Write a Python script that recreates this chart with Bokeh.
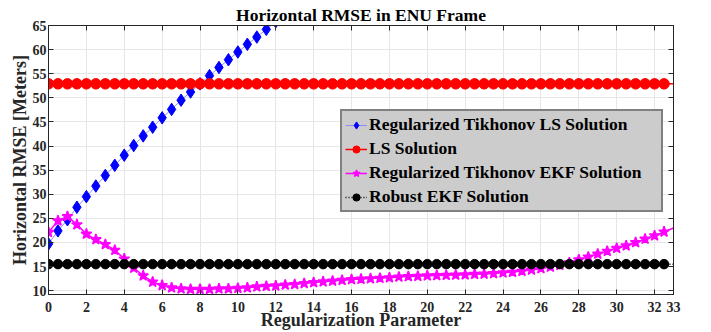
import numpy as np
from bokeh.plotting import figure
from bokeh.models import (Range1d, FixedTicker, LinearAxis, Legend, LegendItem,
                          CustomJSTickFormatter)
from bokeh.embed import file_html
from bokeh.resources import INLINE

# ---------------- data ----------------
reg_param = [i * 0.5 for i in range(67)]          # 0, 0.5, ... 33
x_ticks = [0, 2, 4, 6, 8, 10, 12, 14, 16, 18, 20, 22, 24, 26, 28, 30, 32, 33]
y_ticks = [10, 15, 20, 25, 30, 35, 40, 45, 50, 55, 60, 65]

# Regularized Tikhonov LS Solution (leaves the axes after ~12)
tik_ls_x = [i * 0.5 for i in range(26)]
tik_ls_rmse = [19.7, 22.4, 24.7, 27.3, 29.5, 31.7, 33.9, 36.0, 38.1, 40.1,
               42.1, 43.9, 45.85, 47.6, 49.5, 51.2, 52.9, 54.6, 56.3, 57.9,
               59.5, 61.1, 62.6, 64.2, 65.8, 67.4]

# LS Solution
ls_rmse = [52.9, 52.9, 52.9, 52.9, 52.9, 52.9, 52.9, 52.9, 52.9, 52.9,
           52.9, 52.9, 52.9, 52.9, 52.9, 52.9, 52.9, 52.9, 52.9, 52.9,
           52.9, 52.9, 52.9, 52.9, 52.9, 52.9, 52.9, 52.9, 52.9, 52.9,
           52.9, 52.9, 52.9, 52.9, 52.9, 52.9, 52.9, 52.9, 52.9, 52.9,
           52.9, 52.9, 52.9, 52.9, 52.9, 52.9, 52.9, 52.9, 52.9, 52.9,
           52.9, 52.9, 52.9, 52.9, 52.9, 52.9, 52.9, 52.9, 52.9, 52.9,
           52.9, 52.9, 52.9, 52.9, 52.9, 52.9, 52.9]

# Regularized Tikhonov EKF Solution
tik_ekf_rmse = [22.1, 24.5, 25.4, 23.7, 21.75, 20.6, 19.6, 18.4, 16.6, 14.7,
                13.1, 11.8, 11.1, 10.6, 10.4, 10.3, 10.3, 10.3, 10.4, 10.4,
                10.5, 10.6, 10.8, 10.9, 11.0, 11.2, 11.3, 11.5, 11.7, 11.85,
                12.0, 12.15, 12.3, 12.4, 12.5, 12.6, 12.7, 12.85, 12.95, 13.0,
                13.1, 13.15, 13.2, 13.25, 13.3, 13.4, 13.45, 13.55, 13.7, 13.85,
                14.05, 14.3, 14.6, 14.9, 15.3, 15.8, 16.4, 17.0, 17.6, 18.2,
                18.8, 19.3, 20.0, 20.7, 21.4, 22.2, 23.0]

# Robust EKF Solution
robust_ekf_rmse = [15.5, 15.5, 15.5, 15.5, 15.5, 15.5, 15.5, 15.5, 15.5, 15.5,
                   15.5, 15.5, 15.5, 15.5, 15.5, 15.5, 15.5, 15.5, 15.5, 15.5,
                   15.5, 15.5, 15.5, 15.5, 15.5, 15.5, 15.5, 15.5, 15.5, 15.5,
                   15.5, 15.5, 15.5, 15.5, 15.5, 15.5, 15.5, 15.5, 15.5, 15.5,
                   15.5, 15.5, 15.5, 15.5, 15.5, 15.5, 15.5, 15.5, 15.5, 15.5,
                   15.5, 15.5, 15.5, 15.5, 15.5, 15.5, 15.5, 15.5, 15.5, 15.5,
                   15.5, 15.5, 15.5, 15.5, 15.5, 15.5, 15.5]

FONT = "Liberation Serif"
DARK = "#262626"

p = figure(width=711, height=332, output_backend="svg", toolbar_location=None,
           x_range=Range1d(0, 33), y_range=Range1d(9.2, 65),
           title="Horizontal RMSE in ENU Frame",
           min_border_left=48, min_border_right=38,
           min_border_top=25, min_border_bottom=37)

p.title.text_font = FONT
p.title.text_font_size = "17.5px"
p.title.text_font_style = "bold"
p.title.text_color = "#000000"
p.title.align = "center"
p.title.standoff = 2
p.title.offset = 0

p.outline_line_color = DARK
p.outline_line_width = 1

for ax in (p.xaxis[0], p.yaxis[0]):
    ax.major_label_text_font = FONT
    ax.major_label_text_font_size = "14px"
    ax.major_label_text_font_style = "bold"
    ax.major_label_text_color = DARK
    ax.axis_label_text_font = FONT
    ax.axis_label_text_font_size = "18px"
    ax.axis_label_text_font_style = "bold"
    ax.axis_label_text_color = DARK
    ax.axis_line_color = DARK
    ax.major_tick_in = 5
    ax.major_tick_out = 0
    ax.minor_tick_in = 0
    ax.minor_tick_out = 0
    ax.major_tick_line_color = DARK
    ax.axis_label_standoff = 0
    ax.major_label_standoff = 2

p.xaxis[0].major_label_standoff = 7
p.xaxis[0].axis_label_standoff = -5
p.xaxis[0].ticker = FixedTicker(ticks=x_ticks)
p.yaxis[0].ticker = FixedTicker(ticks=y_ticks)
p.xaxis[0].axis_label = "Regularization Parameter"
p.yaxis[0].axis_label = "Horizontal RMSE [Meters]"

# mirror ticks on top and right (box), with no labels
blank = CustomJSTickFormatter(code="return '';")
top_ax = LinearAxis(ticker=FixedTicker(ticks=x_ticks), formatter=blank,
                    major_tick_in=5, major_tick_out=0, minor_tick_in=0, minor_tick_out=0,
                    major_label_standoff=0, axis_line_color=DARK,
                    major_tick_line_color=DARK)
right_ax = LinearAxis(ticker=FixedTicker(ticks=y_ticks), formatter=blank,
                      major_tick_in=5, major_tick_out=0, minor_tick_in=0, minor_tick_out=0,
                      major_label_standoff=0, axis_line_color=DARK,
                      major_tick_line_color=DARK)
p.add_layout(top_ax, "above")
p.add_layout(right_ax, "right")

p.xgrid.ticker = FixedTicker(ticks=x_ticks)
p.ygrid.ticker = FixedTicker(ticks=y_ticks)
p.xgrid.grid_line_color = "#e6e6e6"
p.ygrid.grid_line_color = "#e6e6e6"

# series
l1 = p.line(tik_ls_x, tik_ls_rmse, line_color="#8c8cff", line_width=1)
m1 = p.scatter(tik_ls_x, tik_ls_rmse, marker="diamond", size=12.5,
               fill_color="#0000ff", line_color="#0000ff")

l2 = p.line(reg_param, ls_rmse, line_color="#ff0000", line_width=1.5)
m2 = p.scatter(reg_param[:-1], ls_rmse[:-1], marker="circle", size=10.5,
               fill_color="#ff0000", line_color="#ff0000")

l3 = p.line(reg_param, tik_ekf_rmse, line_color="#ff00ff", line_width=1.5)
m3 = p.scatter(reg_param[:-1], tik_ekf_rmse[:-1], marker="star", size=11,
               fill_color="#ff00ff", line_color="#ff00ff", line_width=1.5)

l4 = p.line(reg_param, robust_ekf_rmse, line_color="#000000", line_width=1.5,
            line_dash="1 2")
m4 = p.scatter(reg_param[:-1], robust_ekf_rmse[:-1], marker="circle", size=9.5,
               fill_color="#000000", line_color="#000000")

legend = Legend(items=[
    LegendItem(label="Regularized Tikhonov LS Solution", renderers=[l1, m1]),
    LegendItem(label="LS Solution", renderers=[l2, m2]),
    LegendItem(label="Regularized Tikhonov EKF Solution", renderers=[l3, m3]),
    LegendItem(label="Robust EKF Solution", renderers=[l4, m4]),
], location=(292, 82))
legend.label_text_font = FONT
legend.label_text_font_size = "17.5px"
legend.label_text_font_style = "bold"
legend.label_text_color = "#000000"
legend.background_fill_color = "#cccccc"
legend.background_fill_alpha = 1.0
legend.border_line_color = "#333333"
legend.border_line_width = 2
legend.padding = 3
legend.spacing = 3
legend.label_height = 18
legend.glyph_height = 18
legend.glyph_width = 22
legend.label_width = 289
legend.label_standoff = 2
legend.margin = 0
p.add_layout(legend, "center")

open("out.html", "w").write(file_html(p, INLINE))
